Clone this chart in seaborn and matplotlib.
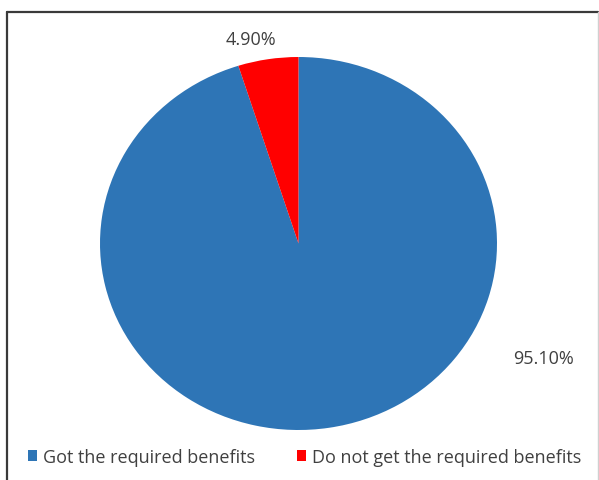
import matplotlib
matplotlib.use('Agg')
import matplotlib.pyplot as plt
import seaborn as sns
from matplotlib.lines import Line2D
from matplotlib.patches import Patch

# data
categories = ['Got the required benefits', 'Do not get the required benefits']
shares = [95.10, 4.90]
pct_labels = ['95.10%', '4.90%']
colors = ['#2E75B6', '#FF0000']

sns.set_theme(style='white')
plt.rcParams['font.family'] = ['Open Sans', 'DejaVu Sans']

W, H = 599, 481
fig = plt.figure(figsize=(W / 100, H / 100), dpi=100)
fig.patch.set_facecolor('white')

# pie area in pixels: x 100..497, y 58..431 (from top)
ax = fig.add_axes([100 / W, (H - 431) / H, 397 / W, 373 / H])
ax.pie(shares, colors=colors, startangle=90, counterclock=False,
       wedgeprops=dict(linewidth=0))
ax.set_aspect('auto')
ax.set_xlim(-1, 1)
ax.set_ylim(-1, 1)
ax.axis('off')

# data labels (placed like Excel's best fit)
label_pos = [(1.232, -0.614), (-0.242, 1.094)]
for txt, (lx, ly) in zip(pct_labels, label_pos):
    ax.text(lx, ly, txt, ha='center', va='center', fontsize=13,
            color='#404040', clip_on=False)

# legend
handles = [Patch(facecolor=c, edgecolor='none') for c in colors]
fig.legend(handles, categories, loc='center', ncol=2,
           bbox_to_anchor=(304.5 / W, (H - 458) / H), frameon=False,
           fontsize=13, labelcolor='#404040', handlelength=0.5,
           handleheight=0.5, handletextpad=0.35, columnspacing=2.3)

# chart border
def px(x, y):
    return x / W, (H - y) / H

for (x0, y0), (x1, y1), col, lw in [
        ((7, 13), (7, 481), '#3a3a3a', 1.6),
        ((7, 13), (598, 13), '#3a3a3a', 1.6),
        ((598, 13), (598, 481), '#d0d0d0', 1.0)]:
    a, b = px(x0, y0)
    c, d = px(x1, y1)
    fig.add_artist(Line2D([a, c], [b, d], color=col, linewidth=lw,
                          transform=fig.transFigure))

fig.savefig('out.png', dpi=100)
